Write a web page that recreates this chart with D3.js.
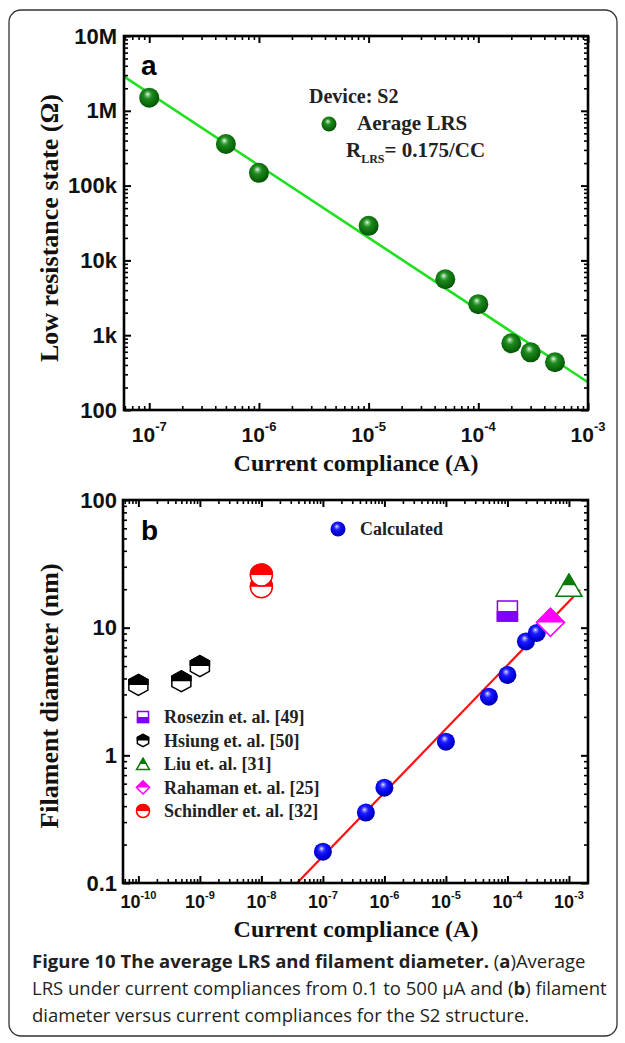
<!DOCTYPE html>
<html><head><meta charset="utf-8">
<script src="https://cdn.jsdelivr.net/npm/d3@7"></script>
<style>body{margin:0;background:#fff} svg{display:block}</style>
</head><body><svg id="c" width="625" height="1043"></svg>
<script>
// ---------- data ----------
// panel (a): average LRS vs current compliance
const ccLRS = [1e-7, 5e-7, 1e-6, 1e-5, 5e-5, 1e-4, 2e-4, 3e-4, 5e-4];
const lrsValues = [1.5e6, 3.6e5, 1.48e5, 2.9e4, 5.6e3, 2.6e3, 780, 590, 435];
const lrsFitCC = [5.9e-8, 1e-3];
const lrsFitR = [2.86e6, 235];
const lrsTickVals = [100, 1e3, 1e4, 1e5, 1e6, 1e7];
const lrsTickLabels = ["100", "1k", "10k", "100k", "1M", "10M"];
const ccTickExpA = [-7, -6, -5, -4, -3];

// panel (b): filament diameter vs current compliance
const ccCalc = [1e-7, 5e-7, 1e-6, 1e-5, 5e-5, 1e-4, 2e-4, 3e-4];
const diaCalc = [0.176, 0.356, 0.558, 1.28, 2.88, 4.26, 7.8, 9.1];
const diaFitCC = [3.8e-8, 1.51e-3];
const diaFitD = [0.1, 19.7];
const rosezinCC = [1e-4], rosezinD = [13.5];
const hsiungCC = [1e-10, 5e-10, 1e-9], hsiungD = [3.56, 3.8, 5.0];
const liuCC = [1e-3], liuD = [21.5];
const rahamanCC = [5e-4], rahamanD = [11];
const schindlerCC = [1e-8, 1e-8], schindlerD = [20.9, 25.9];
const diaTickVals = [0.1, 1, 10, 100];
const diaTickLabels = ["0.1", "1", "10", "100"];
const ccTickExpB = [-10, -9, -8, -7, -6, -5, -4, -3];

const refSeries = [
  {name: "Rosezin et. al. [49]", shape: "square", color: "#7f00ff", half: "bottom", cc: rosezinCC, d: rosezinD, size: 20},
  {name: "Hsiung et. al. [50]", shape: "hexagon", color: "#000000", half: "top", cc: hsiungCC, d: hsiungD, size: 22},
  {name: "Liu et. al. [31]", shape: "triangle", color: "#0b7a0b", half: "top", cc: liuCC, d: liuD, size: 26},
  {name: "Rahaman et. al. [25]", shape: "diamond", color: "#ff00ff", half: "top", cc: rahamanCC, d: rahamanD, size: 28},
  {name: "Schindler et. al. [32]", shape: "circle", color: "#ff0000", half: "top", cc: schindlerCC, d: schindlerD, size: 22}
];

// ---------- setup ----------
const svg = d3.select("#c");
const SANS = "'Liberation Sans', Arial, sans-serif";
const SERIF = "'Liberation Serif', 'Times New Roman', serif";

svg.append("rect").attr("x", 9).attr("y", 10).attr("width", 608).attr("height", 1026)
  .attr("rx", 12).attr("fill", "none").attr("stroke", "#333").attr("stroke-width", 1.3);

const defs = svg.append("defs");
function sphereGrad(id, stops) {
  const g = defs.append("radialGradient").attr("id", id)
    .attr("cx", "0.45").attr("cy", "0.42").attr("r", "0.6").attr("fx", "0.42").attr("fy", "0.32");
  stops.forEach(s => g.append("stop").attr("offset", s[0]).attr("stop-color", s[1]));
}
sphereGrad("gGreen", [["0%", "#f2fff2"], ["14%", "#7fc77f"], ["35%", "#1f8a1f"], ["75%", "#0b6a0b"], ["100%", "#064d06"]]);
sphereGrad("gBlue", [["0%", "#f0f0ff"], ["14%", "#8080ff"], ["35%", "#1a1aff"], ["75%", "#0000d8"], ["100%", "#00009a"]]);
defs.append("clipPath").attr("id", "clipTop").attr("clipPathUnits", "objectBoundingBox")
  .append("rect").attr("x", -0.1).attr("y", -0.1).attr("width", 1.2).attr("height", 0.6);
defs.append("clipPath").attr("id", "clipBottom").attr("clipPathUnits", "objectBoundingBox")
  .append("rect").attr("x", -0.1).attr("y", 0.5).attr("width", 1.2).attr("height", 0.6);

function shapePath(type, s) {
  const r = s / 2;
  if (type === "circle") return `M${-r},0A${r},${r} 0 1,1 ${r},0A${r},${r} 0 1,1 ${-r},0Z`;
  if (type === "square") return `M${-r},${-r}H${r}V${r}H${-r}Z`;
  if (type === "diamond") return `M0,${-r}L${r},0L0,${r}L${-r},0Z`;
  if (type === "triangle") { const h = s * 0.85; return `M0,${-h / 2}L${r},${h / 2}L${-r},${h / 2}Z`; }
  if (type === "hexagon") {
    const pts = d3.range(6).map(i => { const a = (-90 + 60 * i) * Math.PI / 180; return [r * Math.cos(a), r * 0.95 * Math.sin(a)]; });
    return "M" + pts.map(p => p.join(",")).join("L") + "Z";
  }
}
function halfMarker(g, x, y, ser, s) {
  const m = g.append("g").attr("transform", `translate(${x},${y})`);
  const p = shapePath(ser.shape, s);
  m.append("path").attr("d", p).attr("fill", "#fff").attr("stroke", ser.color).attr("stroke-width", 1.5);
  m.append("path").attr("d", p).attr("fill", ser.color).attr("stroke", ser.color).attr("stroke-width", 1.5)
    .attr("clip-path", ser.half === "top" ? "url(#clipTop)" : "url(#clipBottom)");
}

function minorTicks(domain) {
  const out = [];
  const lo = Math.floor(Math.log10(domain[0])), hi = Math.ceil(Math.log10(domain[1]));
  for (let n = lo; n <= hi; n++) for (let k = 2; k <= 9; k++) {
    const v = k * Math.pow(10, n);
    if (v >= domain[0] && v <= domain[1]) out.push(v);
  }
  return out;
}
function majorTicks(domain) {
  const out = [];
  const lo = Math.floor(Math.log10(domain[0])), hi = Math.ceil(Math.log10(domain[1]));
  for (let n = lo; n <= hi; n++) { const v = Math.pow(10, n); if (v >= domain[0] * 0.999 && v <= domain[1] * 1.001) out.push(v); }
  return out;
}

function frameAxes(g, x, y) {
  const [x0, x1] = x.range(), [y0, y1] = y.range();
  const xd = x.domain(), yd = y.domain();
  const mk = () => [
    [d3.axisBottom(x), `translate(0,${y0})`, xd],
    [d3.axisTop(x), `translate(0,${y1})`, xd],
    [d3.axisLeft(y), `translate(${x0},0)`, yd],
    [d3.axisRight(y), `translate(${x1},0)`, yd]
  ];
  mk().forEach(([ax, tr, dom]) => {
    const gm = g.append("g").attr("transform", tr)
      .call(ax.tickValues(majorTicks(dom)).tickSize(-7).tickFormat(""));
    gm.select(".domain").remove();
    gm.selectAll("line").attr("stroke", "#000").attr("stroke-width", 2);
  });
  mk().forEach(([ax, tr, dom]) => {
    const gm = g.append("g").attr("transform", tr)
      .call(ax.tickValues(minorTicks(dom)).tickSize(-4).tickFormat(""));
    gm.select(".domain").remove();
    gm.selectAll("line").attr("stroke", "#000").attr("stroke-width", 1.6);
  });
  g.append("rect").attr("x", x0).attr("y", y1).attr("width", x1 - x0).attr("height", y0 - y1)
    .attr("fill", "none").attr("stroke", "#000").attr("stroke-width", 2.6);
}

function powLabels(g, x, exps, yBase, fs, sfs) {
  exps.forEach(e => {
    const t = g.append("text").attr("x", x(Math.pow(10, e))).attr("y", yBase)
      .attr("text-anchor", "middle").attr("font-family", SANS).attr("font-weight", "bold")
      .attr("font-size", fs).attr("fill", "#111");
    t.append("tspan").text("10");
    t.append("tspan").attr("dy", -fs * 0.52).attr("font-size", sfs).text("-" + Math.abs(e));
  });
}

// ---------- panel (a) ----------
const ga = svg.append("g");
const xa = d3.scaleLog().domain([Math.pow(10, -7.23), 1e-3]).range([124, 588]);
const ya = d3.scaleLog().domain([100, 1e7]).range([410, 36]);

ga.append("path")
  .datum(lrsFitCC.map((c, i) => [c, lrsFitR[i]]))
  .attr("d", d3.line().x(d => xa(d[0])).y(d => ya(d[1])))
  .attr("stroke", "#1fe01f").attr("stroke-width", 2.6).attr("fill", "none");
ga.selectAll("circle.pt").data(ccLRS.map((c, i) => [c, lrsValues[i]])).join("circle")
  .attr("class", "pt").attr("cx", d => xa(d[0])).attr("cy", d => ya(d[1])).attr("r", 10)
  .attr("fill", "url(#gGreen)");
frameAxes(ga, xa, ya);

ga.selectAll("text.yl").data(lrsTickVals).join("text").attr("class", "yl")
  .attr("x", 117).attr("y", d => ya(d) + 7.5).attr("text-anchor", "end")
  .attr("font-family", SANS).attr("font-weight", "bold").attr("font-size", 22).attr("fill", "#111")
  .text((d, i) => lrsTickLabels[i]);
powLabels(ga, xa, ccTickExpA, 442, 21, 13);

ga.append("text").attr("x", 141).attr("y", 75).attr("font-family", SANS).attr("font-weight", "bold")
  .attr("font-size", 28).text("a");
ga.append("text").attr("x", 309).attr("y", 103).attr("font-family", SERIF).attr("font-weight", "bold")
  .attr("font-size", 20).attr("fill", "#222").text("Device: S2");
ga.append("circle").attr("cx", 329).attr("cy", 124).attr("r", 7.5).attr("fill", "url(#gGreen)");
ga.append("text").attr("x", 357).attr("y", 130).attr("font-family", SERIF).attr("font-weight", "bold")
  .attr("font-size", 21).attr("fill", "#222").text("Aerage LRS");
const rt = ga.append("text").attr("x", 346).attr("y", 157).attr("font-family", SERIF).attr("font-weight", "bold")
  .attr("font-size", 21).attr("fill", "#222");
rt.append("tspan").text("R");
rt.append("tspan").attr("dy", 6).attr("font-size", 12).text("LRS");
rt.append("tspan").attr("dy", -6).text("= 0.175/CC");

ga.append("text").attr("transform", "translate(58,228) rotate(-90)").attr("text-anchor", "middle")
  .attr("font-family", SERIF).attr("font-weight", "bold").attr("font-size", 26).attr("fill", "#111")
  .text("Low resistance state (Ω)");
ga.append("text").attr("x", 356).attr("y", 471).attr("text-anchor", "middle")
  .attr("font-family", SERIF).attr("font-weight", "bold").attr("font-size", 24).attr("fill", "#111")
  .text("Current compliance (A)");

// ---------- panel (b) ----------
const gb = svg.append("g");
const xb = d3.scaleLog().domain([Math.pow(10, -10.25), Math.pow(10, -2.69)]).range([123, 588]);
const yb = d3.scaleLog().domain([0.1, 100]).range([883, 500]);

gb.append("path")
  .datum(diaFitCC.map((c, i) => [c, diaFitD[i]]))
  .attr("d", d3.line().x(d => xb(d[0])).y(d => yb(d[1])))
  .attr("stroke", "#ff1010").attr("stroke-width", 2.2).attr("fill", "none");
gb.selectAll("circle.pt").data(ccCalc.map((c, i) => [c, diaCalc[i]])).join("circle")
  .attr("class", "pt").attr("cx", d => xb(d[0])).attr("cy", d => yb(d[1])).attr("r", 9)
  .attr("fill", "url(#gBlue)");
refSeries.forEach(ser => {
  ser.cc.forEach((c, i) => halfMarker(gb, xb(c), yb(ser.d[i]), ser, ser.size));
});
frameAxes(gb, xb, yb);

gb.selectAll("text.yl").data(diaTickVals).join("text").attr("class", "yl")
  .attr("x", 117).attr("y", d => yb(d) + 7.5).attr("text-anchor", "end")
  .attr("font-family", SANS).attr("font-weight", "bold").attr("font-size", 22).attr("fill", "#111")
  .text((d, i) => diaTickLabels[i]);
powLabels(gb, xb, ccTickExpB, 908, 18, 11);

gb.append("text").attr("x", 141).attr("y", 540).attr("font-family", SANS).attr("font-weight", "bold")
  .attr("font-size", 28).text("b");
gb.append("circle").attr("cx", 338).attr("cy", 529).attr("r", 7.5).attr("fill", "url(#gBlue)");
gb.append("text").attr("x", 360).attr("y", 535).attr("font-family", SERIF).attr("font-weight", "bold")
  .attr("font-size", 18).attr("fill", "#222").text("Calculated");

refSeries.forEach((ser, i) => {
  const yy = 723 + i * 23.5;
  halfMarker(gb, 143, yy - 6, ser, ser.shape === "square" ? 11 : 13);
  gb.append("text").attr("x", 164).attr("y", yy).attr("font-family", SERIF).attr("font-weight", "bold")
    .attr("font-size", 18).attr("fill", "#222").text(ser.name);
});

gb.append("text").attr("transform", "translate(58,696) rotate(-90)").attr("text-anchor", "middle")
  .attr("font-family", SERIF).attr("font-weight", "bold").attr("font-size", 26).attr("fill", "#111")
  .text("Filament diameter (nm)");
gb.append("text").attr("x", 356).attr("y", 937).attr("text-anchor", "middle")
  .attr("font-family", SERIF).attr("font-weight", "bold").attr("font-size", 24).attr("fill", "#111")
  .text("Current compliance (A)");

// ---------- caption ----------
const CAP = "'Open Sans', 'Noto Sans', sans-serif";
const capLines = [
  [["Figure 10 The average LRS and filament diameter.", true], [" (", false], ["a", true], [")Average", false]],
  [["LRS under current compliances from 0.1 to 500 μA and (", false], ["b", true], [") filament", false]],
  [["diameter versus current compliances for the S2 structure.", false]]
];
capLines.forEach((line, i) => {
  const t = svg.append("text").attr("x", 32).attr("y", 968 + i * 27).attr("font-family", CAP)
    .attr("font-size", 18.5).attr("fill", "#231f20");
  line.forEach(([s, b]) => t.append("tspan").attr("font-weight", b ? "bold" : "normal").text(s));
});
</script></body></html>
